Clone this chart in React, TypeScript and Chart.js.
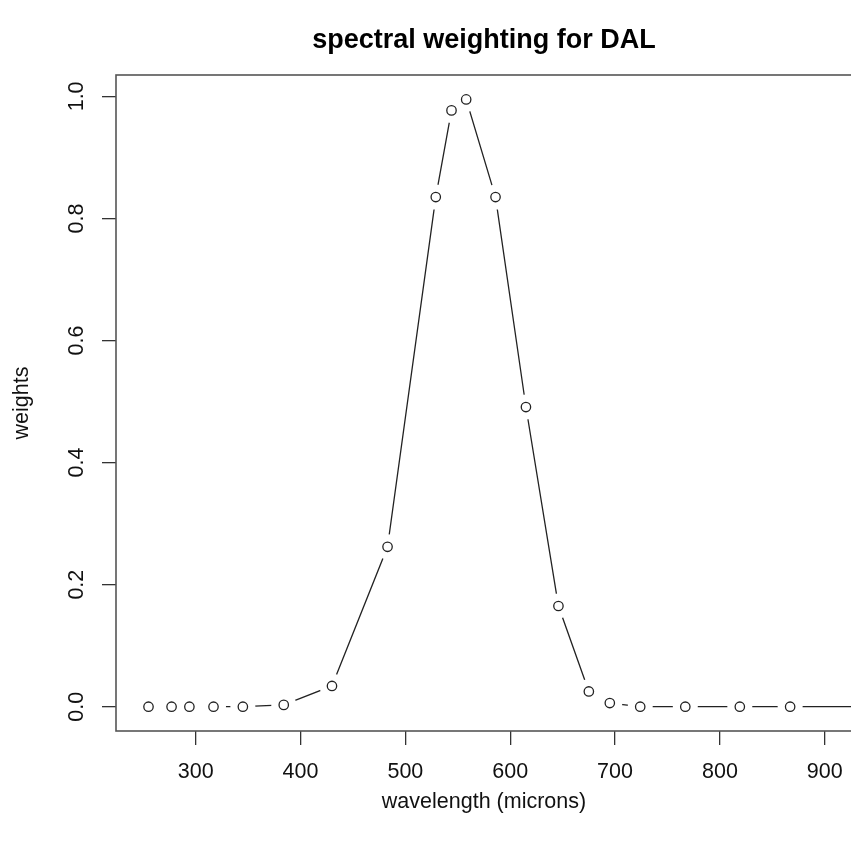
import React, { useEffect, useRef } from "react";
import { Chart, registerables } from "chart.js";

Chart.register(...registerables);

const wavelengths = [255, 277, 294, 317, 345, 384, 430, 483, 529, 544, 558, 586, 615, 646, 675, 695, 724, 767, 819, 867, 940];
const weights = [0, 0, 0, 0, 0, 0.003, 0.034, 0.262, 0.835, 0.977, 0.995, 0.835, 0.491, 0.165, 0.025, 0.006, 0, 0, 0, 0, 0];
const xTickValues = [300, 400, 500, 600, 700, 800, 900];
const yTickValues = [0, 0.2, 0.4, 0.6, 0.8, 1.0];

const FONT = "'Liberation Sans', Arial, Helvetica, sans-serif";

const framePlugin = {
  id: "frame",
  afterDraw(chart: any) {
    const { ctx, chartArea } = chart;
    ctx.save();
    ctx.strokeStyle = "#555";
    ctx.lineWidth = 1.6;
    ctx.strokeRect(chartArea.left, chartArea.top, chartArea.right - chartArea.left, chartArea.bottom - chartArea.top);
    ctx.restore();
  },
};

export default function App() {
  const ref = useRef<HTMLCanvasElement | null>(null);
  useEffect(() => {
    if (!ref.current) return;
    const pts = wavelengths.map((x, i) => ({ x, y: weights[i] }));
    const chart = new Chart(ref.current, {
      type: "line",
      data: {
        datasets: [
          {
            label: "points",
            data: pts,
            showLine: false,
            pointRadius: 4.7,
            pointBorderWidth: 1.3,
            pointBorderColor: "#222",
            pointBackgroundColor: "#fff",
            order: 0,
          },
          {
            label: "halo",
            data: pts,
            showLine: false,
            pointRadius: 12.5,
            pointBorderWidth: 0,
            pointBorderColor: "#fff",
            pointBackgroundColor: "#fff",
            order: 1,
          },
          {
            label: "line",
            data: pts,
            borderColor: "#222",
            borderWidth: 1.3,
            pointRadius: 0,
            tension: 0,
            fill: false,
            order: 2,
          },
        ],
      },
      options: {
        animation: false,
        responsive: false,
        layout: { padding: { right: 18, left: 0, top: 0, bottom: 0 } },
        plugins: {
          legend: { display: false },
          tooltip: { enabled: false },
          title: {
            display: true,
            text: "spectral weighting for DAL",
            fullSize: false,
            color: "#000",
            font: { family: FONT, size: 27, weight: "bold" },
            padding: { top: 24, bottom: 18.6 },
          },
        },
        scales: {
          x: {
            type: "linear",
            min: 224,
            max: 926,
            afterFit(scale: any) {
              scale.height = 114;
            },
            afterBuildTicks(scale: any) {
              scale.ticks = xTickValues.map((v) => ({ value: v }));
            },
            border: { display: false },
            grid: { drawOnChartArea: false, drawTicks: true, tickLength: 14, color: "#333", lineWidth: 1.3 },
            ticks: {
              color: "#111",
              font: { family: FONT, size: 21.5 },
              padding: 14,
              maxRotation: 0,
              autoSkip: false,
              callback: (v: any) => String(v),
            },
            title: {
              display: true,
              text: "wavelength (microns)",
              color: "#111",
              font: { family: FONT, size: 21.5 },
              padding: { top: 0, bottom: 30 },
            },
          },
          y: {
            type: "linear",
            min: -0.0398,
            max: 1.035,
            afterFit(scale: any) {
              scale.width = 116;
            },
            afterBuildTicks(scale: any) {
              scale.ticks = yTickValues.map((v) => ({ value: v }));
            },
            border: { display: false },
            grid: { drawOnChartArea: false, drawTicks: true, tickLength: 14, color: "#333", lineWidth: 1.3 },
            ticks: {
              color: "#111",
              font: { family: FONT, size: 21.5 },
              padding: 9.5,
              minRotation: 90,
              maxRotation: 90,
              crossAlign: "center",
              autoSkip: false,
              callback: (v: any) => Number(v).toFixed(1),
            },
            title: {
              display: true,
              text: "weights",
              color: "#111",
              font: { family: FONT, size: 21.5 },
              padding: { top: 9.5, bottom: 0 },
            },
          },
        },
      },
      plugins: [framePlugin],
    });
    return () => chart.destroy();
  }, []);

  return (
    <div style={{ position: "absolute", left: 0, top: 0, width: 851, height: 845, overflow: "hidden", background: "#fff" }}>
      <canvas ref={ref} width={870} height={845} style={{ display: "block" }} />
    </div>
  );
}
